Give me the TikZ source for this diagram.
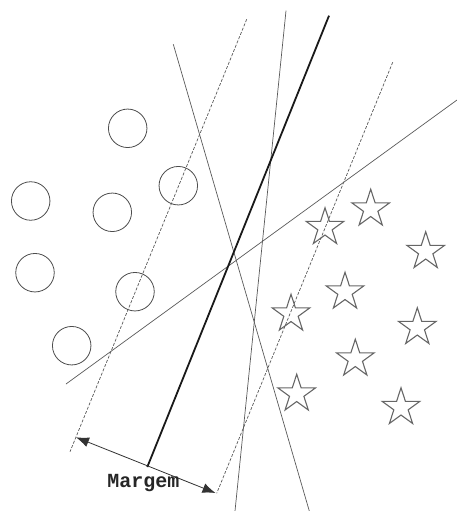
\documentclass[tikz,border=0pt]{standalone}
\usepackage{fontspec}
\setmonofont{Liberation Mono}
\usetikzlibrary{shapes.geometric,arrows.meta}
\begin{document}
\begin{tikzpicture}[x=1pt,y=-1pt,
  ptcircle/.style={circle,draw=black!70,line width=0.8pt,inner sep=0pt,minimum size=38.5pt},
  ptstar/.style={star,star points=5,star point ratio=2.618,draw=black!60,line width=1.1pt,inner sep=0pt,minimum size=39.5pt},
  thinline/.style={draw=black!65,line width=0.7pt},
  dashline/.style={draw=black!65,line width=0.7pt,dash pattern=on 3pt off 1.6pt},
  thickline/.style={draw=black!90,line width=1.8pt},
  marginarrow/.style={draw=black!80,line width=0.8pt,{Latex[length=13pt,width=10pt]}-{Latex[length=13pt,width=10pt]}}]
\useasboundingbox (0,0) rectangle (457,511);
% circles
\node[ptcircle] (c1) at (127.7,128.3) {};
\node[ptcircle] (c2) at (178.3,185.7) {};
\node[ptcircle] (c3) at (30.7,201) {};
\node[ptcircle] (c4) at (112.3,212.3) {};
\node[ptcircle] (c5) at (35,272.7) {};
\node[ptcircle] (c6) at (135,291.7) {};
\node[ptcircle] (c7) at (71.7,345.7) {};
% stars
\node[ptstar] (s1) at (370.7,209) {};
\node[ptstar] (s2) at (325,227.5) {};
\node[ptstar] (s3) at (425.7,251.5) {};
\node[ptstar] (s4) at (345,292) {};
\node[ptstar] (s5) at (291,314) {};
\node[ptstar] (s6) at (417.3,327.5) {};
\node[ptstar] (s7) at (355.3,359) {};
\node[ptstar] (s8) at (296.7,394) {};
\node[ptstar] (s9) at (401,407.5) {};
% line end points
\coordinate (ta) at (173.3,44.3);
\coordinate (tb) at (309.3,511);
\coordinate (va) at (286,10.7);
\coordinate (vb) at (235,511);
\coordinate (ha) at (66,384);
\coordinate (hb) at (457,100);
\coordinate (dla) at (246.7,19.3);
\coordinate (dlb) at (70,451.7);
\coordinate (dra) at (392.7,62.3);
\coordinate (drb) at (216.7,493.3);
\coordinate (ka) at (329,15.7);
\coordinate (kb) at (147.3,467);
\coordinate (ml) at (76,437.3);
\coordinate (mr) at (215.5,493);
% lines
\draw[thinline] (ta) -- (tb);
\draw[thinline] (va) -- (vb);
\draw[thinline] (ha) -- (hb);
\draw[dashline] (dla) -- (dlb);
\draw[dashline] (dra) -- (drb);
\draw[thickline] (ka) -- (kb);
\draw[marginarrow] (ml) -- (mr);
\node[font=\ttfamily\bfseries\fontsize{20}{24}\selectfont,text=black!85,inner sep=0pt,anchor=base] (lbl) at (143.3,487.5) {Margem};
\end{tikzpicture}
\end{document}
